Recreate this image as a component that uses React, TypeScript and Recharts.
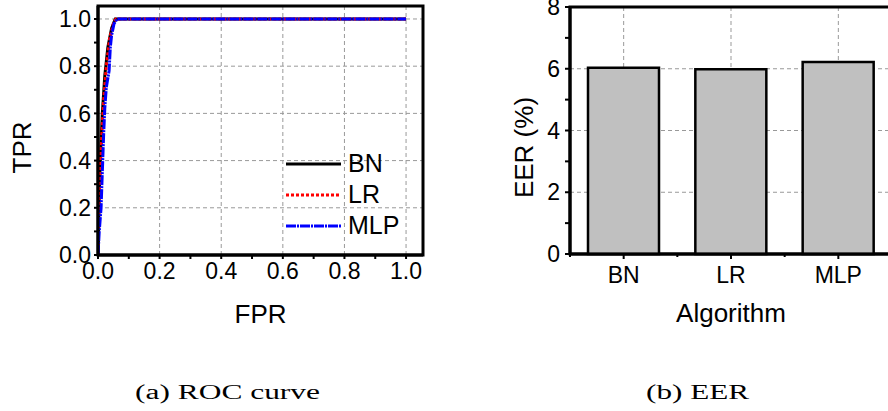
import * as Recharts from 'recharts';
import {
	LineChart,
	Line,
	BarChart,
	Bar,
	XAxis,
	YAxis,
	CartesianGrid,
	Legend,
	Label,
} from 'recharts';

// ROC points
const bnFpr = [0, 0.002, 0.004, 0.008, 0.014, 0.022, 0.032, 0.044, 0.056, 1.0];
const bnTpr = [0, 0.12, 0.25, 0.42, 0.6, 0.76, 0.88, 0.96, 1.0, 1.0];
const lrFpr = [0, 0.001, 0.004, 0.01, 0.018, 0.027, 0.038, 0.05, 0.058, 1.0];
const lrTpr = [0, 0.1, 0.25, 0.45, 0.65, 0.8, 0.92, 0.98, 1.0, 1.0];
const mlpFpr = [0, 0.004, 0.01, 0.014, 0.018, 0.022, 0.027, 0.036, 0.04, 0.044, 0.052, 0.062, 1.0];
const mlpTpr = [0, 0.1, 0.2, 0.35, 0.5, 0.62, 0.71, 0.78, 0.88, 0.93, 0.98, 1.0, 1.0];

const rocTicks = [0, 0.1, 0.2, 0.3, 0.4, 0.5, 0.6, 0.7, 0.8, 0.9, 1.0];
const rocGrid = [0.2, 0.4, 0.6, 0.8, 1.0];
const rocMax = 1.055;

const algorithms = ['BN', 'LR', 'MLP'];
const eerValues = [6.03, 5.98, 6.22];
const eerTicks = [0, 1, 2, 3, 4, 5, 6, 7, 8];
const eerGrid = [2, 4, 6];

const toPoints = (f: number[], t: number[]) => f.map((x, i) => ({ fpr: x, tpr: t[i] }));

const series = [
	{ name: 'BN', data: toPoints(bnFpr, bnTpr), color: '#000000', dash: undefined },
	{ name: 'LR', data: toPoints(lrFpr, lrTpr), color: '#ff0000', dash: '3 2' },
	{ name: 'MLP', data: toPoints(mlpFpr, mlpTpr), color: '#0000ff', dash: '10 1 2 1' },
];

const eerData = algorithms.map((a, i) => ({ algorithm: a, eer: eerValues[i] }));

const FONT = "'Liberation Sans', Arial, sans-serif";
const tickStyle = { fill: '#000', fontSize: 23 };
const axisLine = { stroke: '#000', strokeWidth: 3 };
const gridColor = '#999999';

const rocFmt = (v: number) => (Math.round(v * 10) % 2 === 0 ? v.toFixed(1) : '');
const eerFmt = (v: number) => (v % 2 === 0 ? String(v) : '');

// plot-area frame, from the chart's own layout
const usePlot: any = (Recharts as any).usePlotArea || (() => null);
const Frame = () => {
	const p = usePlot();
	if (!p) return null;
	return <rect x={p.x} y={p.y} width={p.width} height={p.height} fill='none' stroke='#000' strokeWidth={3} />;
};

const yTitle = (text: string, cx: number) => (props: any) => {
	const vb = props.viewBox;
	const cy = vb.y + vb.height / 2 + 17;
	return (
		<text
			x={cx}
			y={cy}
			transform={`rotate(-90 ${cx} ${cy})`}
			textAnchor='middle'
			dominantBaseline='central'
			fontSize={26}
			fill='#000'>
			{text}
		</text>
	);
};

const RocLegend = () => (
	<div>
		{series.map(s => (
			<div key={s.name} style={{ display: 'flex', alignItems: 'center', height: 31 }}>
				<svg width={58} height={10}>
					<line x1={1} y1={5} x2={56} y2={5} stroke={s.color} strokeWidth={3} strokeDasharray={s.dash} />
				</svg>
				<span style={{ fontSize: 25, color: '#000', marginLeft: 5 }}>{s.name}</span>
			</div>
		))}
	</div>
);

const CatTick = (props: any) => {
	const { x, y, payload, index } = props;
	const off = payload?.offset || 0;
	const axisY = y - 13;
	return (
		<g>
			<text x={x} y={y} dy='0.71em' textAnchor='middle' fontSize={23} fill='#000'>
				{payload.value}
			</text>
			{off > 0 && <line x1={x - off} y1={axisY} x2={x - off} y2={axisY + 3} stroke='#000' strokeWidth={2} />}
			{off > 0 && index === algorithms.length - 1 && (
				<line x1={x + off} y1={axisY} x2={x + off} y2={axisY + 3} stroke='#000' strokeWidth={2} />
			)}
		</g>
	);
};

const Caption = ({ text, cx, w }: { text: string; cx: number; w: number }) => (
	<svg width={w + 10} height={30} style={{ position: 'absolute', left: cx - w / 2 - 5, top: 376 }}>
		<text
			x={(w + 10) / 2}
			y={23}
			textAnchor='middle'
			fontFamily="'Liberation Serif', serif"
			fontSize={20}
			textLength={w}
			lengthAdjust='spacingAndGlyphs'
			fill='#000'>
			{text}
		</text>
	</svg>
);

export default function App() {
	return (
		<div
			style={{
				position: 'absolute',
				left: 0,
				top: 0,
				width: 888,
				height: 411,
				background: '#fff',
				fontFamily: FONT,
			}}>
			<div style={{ position: 'absolute', left: 0, top: 0 }}>
				<LineChart width={440} height={340} margin={{ top: 6, right: 17, bottom: 0, left: 0 }}>
					<CartesianGrid
						stroke={gridColor}
						strokeDasharray='4 3'
						horizontalValues={rocGrid}
						verticalValues={rocGrid}
					/>
					<XAxis
						type='number'
						dataKey='fpr'
						domain={[0, rocMax]}
						ticks={rocTicks}
						interval={0}
						allowDataOverflow
						height={85}
						tickSize={4}
						tickMargin={4}
						tickFormatter={rocFmt}
						tick={tickStyle}
						tickLine={{ stroke: '#000', strokeWidth: 2 }}
						axisLine={axisLine}>
						<Label value='FPR' position='insideBottom' offset={17} style={{ fontSize: 26, fill: '#000' }} />
					</XAxis>
					<YAxis
						type='number'
						domain={[0, rocMax]}
						ticks={rocTicks}
						interval={0}
						allowDataOverflow
						width={98}
						tickSize={4}
						tickMargin={3}
						tickFormatter={rocFmt}
						tick={tickStyle}
						tickLine={{ stroke: '#000', strokeWidth: 2 }}
						axisLine={axisLine}>
						<Label content={yTitle('TPR', 22)} />
					</YAxis>
					{series.map(s => (
						<Line
							key={s.name}
							name={s.name}
							data={s.data}
							dataKey='tpr'
							type='linear'
							stroke={s.color}
							strokeWidth={3}
							strokeDasharray={s.dash}
							dot={false}
							isAnimationActive={false}
						/>
					))}
					<Frame />
					<Legend
						layout='vertical'
						align='center'
						verticalAlign='middle'
						content={<RocLegend />}
						wrapperStyle={{ left: 285, top: 148, width: 130 }}
					/>
				</LineChart>
			</div>

			<div style={{ position: 'absolute', left: 440, top: 0 }}>
				<BarChart
					width={448}
					height={340}
					data={eerData}
					margin={{ top: 7, right: -4, bottom: 0, left: 0 }}
					barCategoryGap={18}>
					<CartesianGrid stroke={gridColor} strokeDasharray='4 3' horizontalValues={eerGrid} />
					<XAxis
						dataKey='algorithm'
						height={86}
						interval={0}
						tickSize={5}
						tickMargin={8}
						tick={<CatTick />}
						tickLine={{ stroke: '#000', strokeWidth: 2 }}
						axisLine={axisLine}>
						<Label value='Algorithm' position='insideBottom' offset={18} style={{ fontSize: 26, fill: '#000' }} />
					</XAxis>
					<YAxis
						type='number'
						domain={[0, 8]}
						ticks={eerTicks}
						interval={0}
						width={130}
						tickSize={5}
						tickMargin={5}
						tickFormatter={eerFmt}
						tick={tickStyle}
						tickLine={{ stroke: '#000', strokeWidth: 2 }}
						axisLine={axisLine}>
						<Label content={yTitle('EER (%)', 84)} />
					</YAxis>
					<Bar dataKey='eer' fill='#c0c0c0' stroke='#000' strokeWidth={2.5} isAnimationActive={false} />
					<Frame />
				</BarChart>
			</div>

			<Caption text='(a) ROC curve' cx={227} w={185} />
			<Caption text='(b) EER' cx={697} w={103} />
		</div>
	);
}
